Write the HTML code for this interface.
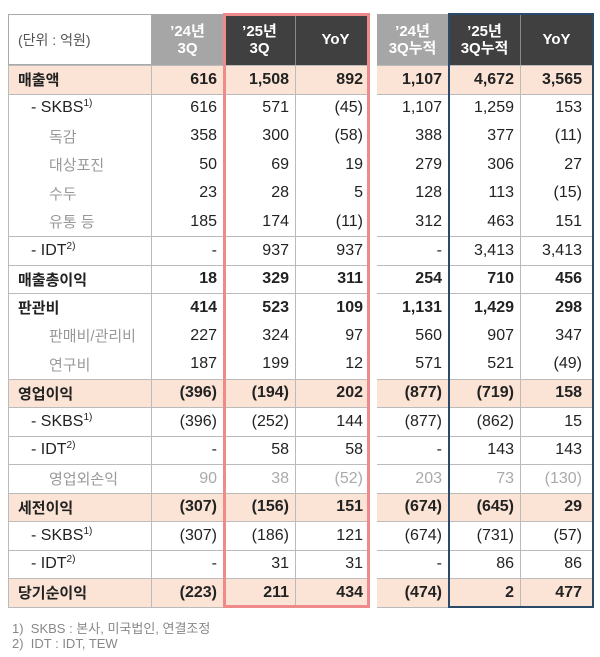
<!DOCTYPE html>
<html><head><meta charset="utf-8"><style>
body{margin:0;width:600px;height:657px;background:#fff;overflow:hidden;font-family:"Liberation Sans","Noto Sans CJK KR",sans-serif;}
#t{position:absolute;left:0;top:0;width:600px;height:657px;}
.c{position:absolute;box-sizing:border-box;font-size:16px;color:#222;display:flex;align-items:center;justify-content:flex-end;padding-right:6px;white-space:nowrap;}
.c sup{font-size:10px;vertical-align:6px;line-height:0;}
.h{justify-content:center;padding:0;color:#fff;font-weight:bold;text-align:center;line-height:17px;font-size:15px;}
.l{justify-content:flex-start;padding-left:9px;font-size:15px;}
.fn{position:absolute;left:12px;font-size:13px;color:#888;}
</style></head><body>
<div id="t"></div>
<div class="fn" style="top:618px">1) &nbsp;SKBS : 본사, 미국법인, 연결조정</div>
<div class="fn" style="top:636px">2) &nbsp;IDT : IDT, TEW</div>
<script>
const headers=["’24년<br>3Q","’25년<br>3Q","YoY","’24년<br>3Q누적","’25년<br>3Q누적","YoY"];
const labels=["매출액","- SKBS<sup>1)</sup>","독감","대상포진","수두","유통 등","- IDT<sup>2)</sup>","매출총이익","판관비","판매비/관리비","연구비","영업이익","- SKBS<sup>1)</sup>","- IDT<sup>2)</sup>","영업외손익","세전이익","- SKBS<sup>1)</sup>","- IDT<sup>2)</sup>","당기순이익"];
const kinds=["hb","d","s","s","s","s","d","b","b","s","s","hb","d","d","g","hb","d","d","hb"];
const values=[
["616","1,508","892","1,107","4,672","3,565"],
["616","571","(45)","1,107","1,259","153"],
["358","300","(58)","388","377","(11)"],
["50","69","19","279","306","27"],
["23","28","5","128","113","(15)"],
["185","174","(11)","312","463","151"],
["-","937","937","-","3,413","3,413"],
["18","329","311","254","710","456"],
["414","523","109","1,131","1,429","298"],
["227","324","97","560","907","347"],
["187","199","12","571","521","(49)"],
["(396)","(194)","202","(877)","(719)","158"],
["(396)","(252)","144","(877)","(862)","15"],
["-","58","58","-","143","143"],
["90","38","(52)","203","73","(130)"],
["(307)","(156)","151","(674)","(645)","29"],
["(307)","(186)","121","(674)","(731)","(57)"],
["-","31","31","-","86","86"],
["(223)","211","434","(474)","2","477"]];
const colX=[8,152,224,296,377,449,521,593];
const padR=[6,6,12,6,6,10];
const hTop=14,hBot=65,rowH=28.5;
const t=document.getElementById('t');
function cell(x,y,w,h,html,cls){const d=document.createElement('div');d.className='c '+cls;d.style.left=x+'px';d.style.top=y+'px';d.style.width=w+'px';d.style.height=h+'px';d.innerHTML='<span>'+html+'</span>';t.appendChild(d);return d;}
let hl=cell(colX[0],hTop,colX[1]-colX[0],hBot-hTop,'(단위 : 억원)','l');
hl.style.color='#555';hl.style.border='1px solid #aaa';hl.style.fontSize='14px';


headers.forEach((h,i)=>{
 const xs=colX[i+1],xe=colX[i+2];
 const d=cell(xs,hTop,xe-xs-(i===2?1:0),hBot-hTop,h,'h');
 d.style.background=(i===0||i===3)?'#a6a6a6':'#404040';
 d.style.borderRight='1px solid #888';
 
 });
labels.forEach((lab,r)=>{const y=hBot+r*rowH;const k=kinds[r];
 const bg=k==='hb'?'#fbe4d5':'#fff';const bold=(k==='hb'||k==='b');
 const topLine=(k==='s')?'none':'1px solid #bbb';
 const lc=cell(colX[0],y,colX[1]-colX[0],rowH,lab,'l');
 lc.style.background=bg;lc.style.borderTop=topLine;lc.style.borderLeft='1px solid #bbb';lc.style.borderRight='1px solid #bbb';
 if(bold){lc.style.fontWeight='bold';}
 if(k==='d'){lc.style.paddingLeft='22px';lc.style.fontSize='16px';}
 if(k==='s'||k==='g'){lc.style.paddingLeft='40px';lc.style.color='#999';}
 
 
 values[r].forEach((v,i)=>{const xs=colX[i+1],xe=colX[i+2]-(i===2?1:0);
  const d=cell(xs,y,xe-xs,rowH,v,'');d.style.background=bg;d.style.borderTop=topLine;d.style.borderRight='1px solid #bbb';
  d.style.paddingRight=padR[i]+'px';
  if(bold)d.style.fontWeight='bold';if(k==='g')d.style.color='#aaa';
  
  });
});
const bottom=hBot+labels.length*rowH;
const lb=document.createElement('div');lb.style.cssText='position:absolute;left:8px;top:'+bottom+'px;width:585px;height:1px;background:#bbb';t.appendChild(lb);


const gap=document.createElement('div');gap.style.cssText='position:absolute;left:369px;top:'+hTop+'px;width:8px;height:'+(bottom-hTop+1)+'px;background:#fff';t.appendChild(gap);


const rb=document.createElement('div');rb.style.cssText='position:absolute;left:223px;top:'+(hTop-1)+'px;width:147px;height:'+(bottom-hTop+2)+'px;border:3px solid #ef8a8a;box-sizing:border-box';t.appendChild(rb);


const bb=document.createElement('div');bb.style.cssText='position:absolute;left:448px;top:'+(hTop-1)+'px;width:146px;height:'+(bottom-hTop+2)+'px;border:2px solid #2a4a6b;box-sizing:border-box';t.appendChild(bb);


</script>
</body></html>
